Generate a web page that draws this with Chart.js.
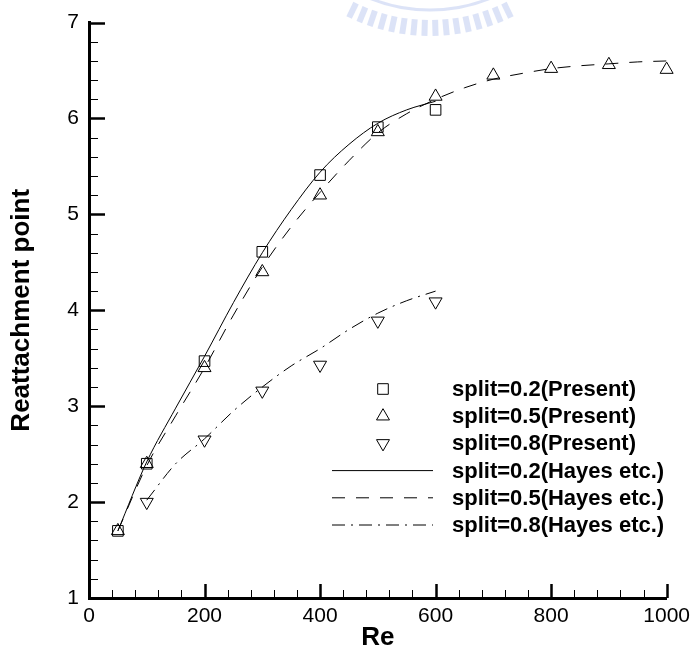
<!DOCTYPE html>
<html lang="en">
<head>
    <meta charset="UTF-8">
    <title>Reattachment point vs Re</title>
    <script src="https://cdn.jsdelivr.net/npm/chart.js"></script>
    <style>
        html, body { margin: 0; padding: 0; background: #fff; }
        #wrap { width: 696px; height: 655px; }
    </style>
</head>
<body>
    <div id="wrap">
        <canvas id="reChart" width="696" height="655"></canvas>
    </div>

    <script>
        // Present results (symbols)
        const re02 = [50, 100, 200, 300, 400, 500, 600];
        const split02Present = [1.70, 2.40, 3.47, 4.61, 5.41, 5.91, 6.09];

        const re05 = [50, 100, 200, 300, 400, 500, 600, 700, 800, 900, 1000];
        const split05Present = [1.70, 2.40, 3.40, 4.40, 5.20, 5.86, 6.23, 6.45, 6.52, 6.56, 6.51];

        const re08 = [100, 200, 300, 400, 500, 600];
        const split08Present = [2.00, 2.65, 3.16, 3.43, 3.89, 4.09];

        // Hayes etc. (lines)
        const reHayes02 = [50, 100, 150, 200, 250, 300, 350, 400, 450, 500, 550, 600];
        const split02Hayes = [1.70, 2.42, 2.98, 3.52, 4.08, 4.60, 5.05, 5.44, 5.73, 5.95, 6.09, 6.18];

        const reHayes05 = [50, 100, 150, 200, 250, 300, 350, 400, 450, 500, 550, 600, 650, 700, 750, 800, 850, 900, 950, 1000];
        const split05Hayes = [1.70, 2.38, 2.90, 3.40, 3.95, 4.45, 4.87, 5.23, 5.56, 5.85, 6.05, 6.20, 6.32, 6.41, 6.47, 6.52, 6.55, 6.57, 6.59, 6.60];

        const reHayes08 = [100, 150, 200, 250, 300, 350, 400, 450, 500, 550, 600];
        const split08Hayes = [2.02, 2.40, 2.66, 2.95, 3.20, 3.42, 3.60, 3.80, 3.97, 4.10, 4.20];

        const seriesLabels = [
            'split=0.2(Present)', 'split=0.5(Present)', 'split=0.8(Present)',
            'split=0.2(Hayes etc.)', 'split=0.5(Hayes etc.)', 'split=0.8(Hayes etc.)'
        ];

        const FONT = "'Liberation Sans', Arial, Helvetica, sans-serif";
        const toXY = (xs, ys) => xs.map((x, i) => ({ x: x, y: ys[i] }));

        function pointSet(label, xs, ys, style, rot) {
            return {
                label: label, data: toXY(xs, ys), showLine: false, clip: false,
                pointStyle: style, rotation: rot, pointRadius: 7.5,
                pointBorderColor: '#000', pointBackgroundColor: 'rgba(0,0,0,0)',
                pointBorderWidth: 1
            };
        }
        function lineSet(label, xs, ys, dash) {
            return {
                label: label, data: toXY(xs, ys), showLine: true, clip: false,
                borderColor: '#000', borderWidth: 1, borderDash: dash,
                pointRadius: 0, fill: false,
                cubicInterpolationMode: 'monotone'
            };
        }

        // faint watermark at the top
        const watermark = {
            id: 'watermark',
            beforeDraw(chart) {
                const c = chart.ctx;
                c.save();
                c.strokeStyle = 'rgba(185,200,240,0.5)';
                const cx = 430, cy = -150;
                c.lineWidth = 3;
                c.beginPath();
                c.arc(cx, cy, 160, Math.PI / 2 - 0.5, Math.PI / 2 + 0.5);
                c.stroke();
                c.lineWidth = 6;
                for (let a = -0.45; a <= 0.45; a += 0.06) {
                    const t = Math.PI / 2 + a;
                    c.beginPath();
                    c.moveTo(cx + 170 * Math.cos(t), cy + 170 * Math.sin(t));
                    c.lineTo(cx + 186 * Math.cos(t), cy + 186 * Math.sin(t));
                    c.stroke();
                }
                c.restore();
            }
        };

        // inward tick marks on both axes
        const innerTicks = {
            id: 'innerTicks',
            afterDraw(chart) {
                const c = chart.ctx, xs = chart.scales.x, ys = chart.scales.y;
                const a = chart.chartArea;
                c.save();
                c.strokeStyle = '#000';
                for (let v = 0; v <= 1000; v += 40) {
                    const major = v % 200 === 0;
                    const px = Math.round(xs.getPixelForValue(v)) + 0.5;
                    c.lineWidth = major ? 2.5 : 1;
                    c.beginPath();
                    c.moveTo(px, a.bottom);
                    c.lineTo(px, a.bottom - (major ? 14 : 8));
                    c.stroke();
                }
                for (let k = 0; k <= 30; k++) {
                    const v = 1 + k * 0.2;
                    const major = k % 5 === 0;
                    const py = Math.round(ys.getPixelForValue(v)) + 0.5;
                    c.lineWidth = major ? 2.5 : 1;
                    c.beginPath();
                    c.moveTo(a.left, py);
                    c.lineTo(a.left + (major ? 16 : 9), py);
                    c.stroke();
                }
                c.restore();
            }
        };

        // legend drawn inside the plot area
        const plotLegend = {
            id: 'plotLegend',
            afterDatasetsDraw(chart) {
                const c = chart.ctx;
                const mx = 383, lx0 = 332, lx1 = 433, tx = 452, y0 = 389, dy = 27.2;
                c.save();
                c.strokeStyle = '#000';
                c.fillStyle = '#000';
                c.font = 'bold 22px ' + FONT;
                c.textBaseline = 'middle';
                chart.data.datasets.forEach((ds, i) => {
                    const y = y0 + i * dy;
                    c.lineWidth = 1;
                    c.setLineDash([]);
                    c.beginPath();
                    if (ds.showLine === false) {
                        const r = 7.5;
                        if (ds.pointStyle === 'rect') {
                            const s = r * Math.SQRT1_2;
                            c.rect(mx - s, y - s, 2 * s, 2 * s);
                        } else {
                            const dir = ds.rotation === 180 ? -1 : 1;
                            c.moveTo(mx, y - dir * r);
                            c.lineTo(mx + r * 0.866, y + dir * r / 2);
                            c.lineTo(mx - r * 0.866, y + dir * r / 2);
                            c.closePath();
                        }
                    } else {
                        c.setLineDash(ds.borderDash || []);
                        c.moveTo(lx0, y);
                        c.lineTo(lx1, y);
                    }
                    c.stroke();
                    c.setLineDash([]);
                    c.fillText(ds.label, tx, y + 1);
                });
                c.restore();
            }
        };

        new Chart(document.getElementById('reChart'), {
            type: 'scatter',
            data: {
                datasets: [
                    pointSet(seriesLabels[0], re02, split02Present, 'rect', 0),
                    pointSet(seriesLabels[1], re05, split05Present, 'triangle', 0),
                    pointSet(seriesLabels[2], re08, split08Present, 'triangle', 180),
                    lineSet(seriesLabels[3], reHayes02, split02Hayes, []),
                    lineSet(seriesLabels[4], reHayes05, split05Hayes, [13, 11]),
                    lineSet(seriesLabels[5], reHayes08, split08Hayes, [13, 6, 2, 6])
                ]
            },
            options: {
                responsive: false,
                animation: false,
                layout: { padding: { left: 0, right: 25, top: 16, bottom: 0 } },
                plugins: {
                    legend: { display: false },
                    tooltip: { enabled: false }
                },
                scales: {
                    x: {
                        type: 'linear', min: 0, max: 1000,
                        ticks: { stepSize: 200, color: '#000', padding: 6, font: { family: FONT, size: 21 },
                                 callback: v => String(v) },
                        grid: { display: false, drawTicks: false },
                        border: { display: true, width: 3, color: '#000' },
                        title: { display: true, text: 'Re', color: '#000', padding: { top: 0, bottom: 2 },
                                 font: { family: FONT, size: 26, weight: 'bold' } },
                        afterFit(scale) { scale.height = 57; }
                    },
                    y: {
                        type: 'linear', min: 1, max: 7,
                        ticks: { stepSize: 1, color: '#000', padding: 10, font: { family: FONT, size: 21 } },
                        grid: { display: false, drawTicks: false },
                        border: { display: true, width: 3, color: '#000' },
                        title: { display: true, text: 'Reattachment point', color: '#000', padding: { top: 6, bottom: 0 },
                                 font: { family: FONT, size: 26, weight: 'bold' } },
                        afterFit(scale) { scale.width = 89; }
                    }
                }
            },
            plugins: [watermark, innerTicks, plotLegend]
        });
    </script>
</body>
</html>
